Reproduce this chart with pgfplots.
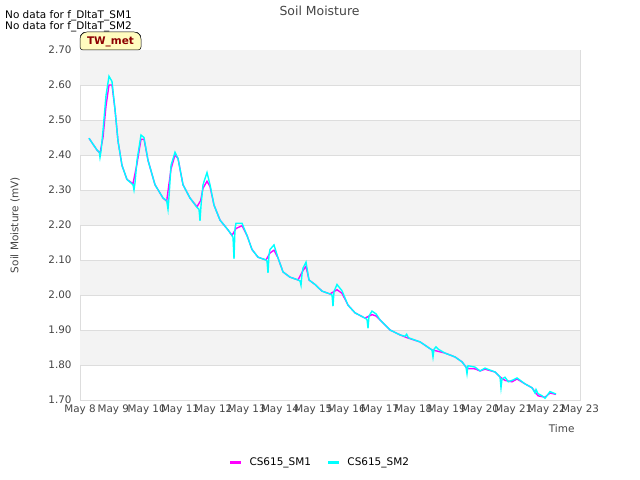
\documentclass[border=0pt]{standalone}
\usepackage{fontspec}
\setmainfont{DejaVu Sans}
\usepackage{pgfplots}
\pgfplotsset{compat=1.18}
\definecolor{sma}{HTML}{FF00FF}
\definecolor{smb}{HTML}{00FFFF}
\definecolor{band}{HTML}{F3F3F3}
\definecolor{gridc}{HTML}{DDDDDD}
\definecolor{txt}{HTML}{444444}
\begin{document}
\begin{tikzpicture}[x=1bp,y=1bp]
\useasboundingbox (0,0) rectangle (640,480);
\begin{axis}[
  at={(80bp,80bp)}, anchor=south west,
  scale only axis, width=500bp, height=350bp,
  xmin=0, xmax=15, ymin=1.70, ymax=2.70,
  xtick={0,...,15},
  xticklabels={May 8,May 9,May 10,May 11,May 12,May 13,May 14,May 15,May 16,May 17,May 18,May 19,May 20,May 21,May 22,May 23},
  ytick={1.70,1.80,...,2.71},
  yticklabel={\pgfmathprintnumber[fixed,fixed zerofill,precision=2]{\tick}},
  /pgf/number format/assume math mode=true,
  tick style={draw=none},
  ticklabel style={font=\fontsize{10.4}{12}\selectfont, text=txt},
  xticklabel style={yshift=-1bp},
  yticklabel style={xshift=-5bp},
  axis line style={draw=gridc},
  ylabel={Soil Moisture (mV)},
  ylabel style={font=\fontsize{10.5}{12}\selectfont, text=txt, at={(axis description cs:-0.13,0.5)}, anchor=center},
  xlabel={Time},
  xlabel style={font=\fontsize{10.5}{12}\selectfont, text=txt, at={(axis description cs:1,0)}, anchor=north east, yshift=-21bp, xshift=-2bp},
  title={Soil Moisture},
  title style={font=\fontsize{12.5}{14}\selectfont, text=txt, at={(axis description cs:0.479,1)}, yshift=33bp, anchor=center},
  legend style={at={(0.48,-0.153)}, anchor=north, draw=none, fill=none, legend columns=2, font=\fontsize{10.5}{12}\selectfont, /tikz/every odd column/.append style={column sep=5bp}, /tikz/every even column/.append style={column sep=14bp}},
  legend image code/.code={\draw[#1, line width=2.5pt] (0bp,0bp) -- (11bp,0bp);},
  clip=false,
]
\addlegendimage{sma}
\addlegendentry{CS615\_SM1}
\addlegendimage{smb}
\addlegendentry{CS615\_SM2}
% background bands
\fill[band] (axis cs:0,2.60) rectangle (axis cs:15,2.70);
\fill[band] (axis cs:0,2.40) rectangle (axis cs:15,2.50);
\fill[band] (axis cs:0,2.20) rectangle (axis cs:15,2.30);
\fill[band] (axis cs:0,2.00) rectangle (axis cs:15,2.10);
\fill[band] (axis cs:0,1.80) rectangle (axis cs:15,1.90);
\draw[gridc, line width=0.8pt] (axis cs:0,1.8) -- (axis cs:15,1.8);
\draw[gridc, line width=0.8pt] (axis cs:0,1.9) -- (axis cs:15,1.9);
\draw[gridc, line width=0.8pt] (axis cs:0,2.0) -- (axis cs:15,2.0);
\draw[gridc, line width=0.8pt] (axis cs:0,2.1) -- (axis cs:15,2.1);
\draw[gridc, line width=0.8pt] (axis cs:0,2.2) -- (axis cs:15,2.2);
\draw[gridc, line width=0.8pt] (axis cs:0,2.3) -- (axis cs:15,2.3);
\draw[gridc, line width=0.8pt] (axis cs:0,2.4) -- (axis cs:15,2.4);
\draw[gridc, line width=0.8pt] (axis cs:0,2.5) -- (axis cs:15,2.5);
\draw[gridc, line width=0.8pt] (axis cs:0,2.6) -- (axis cs:15,2.6);
\addplot[sma, line width=1.4pt, forget plot] coordinates {
(0.27,2.448) (0.51,2.414) (0.6,2.405) (0.69,2.45) (0.78,2.54) (0.87,2.600) (0.96,2.600) (1.05,2.53) (1.14,2.44) (1.26,2.37) (1.41,2.33) (1.59,2.318) (1.71,2.375) (1.83,2.445) (1.92,2.445) (2.04,2.385) (2.25,2.315) (2.49,2.277) (2.6,2.268) (2.73,2.36) (2.85,2.400) (2.94,2.39) (3.09,2.315) (3.3,2.277) (3.51,2.252) (3.62,2.27) (3.69,2.305) (3.81,2.325) (3.9,2.31) (4.02,2.257) (4.2,2.214) (4.44,2.186) (4.56,2.17) (4.68,2.19) (4.86,2.198) (5.01,2.17) (5.16,2.13) (5.34,2.108) (5.58,2.10) (5.7,2.12) (5.82,2.128) (5.94,2.106) (6.09,2.066) (6.3,2.051) (6.54,2.043) (6.69,2.07) (6.78,2.082) (6.87,2.043) (7.05,2.03) (7.26,2.011) (7.5,2.003) (7.71,2.015) (7.86,2.005) (8.04,1.971) (8.25,1.949) (8.55,1.934) (8.76,1.944) (8.88,1.940) (9.0,1.929) (9.3,1.90) (9.6,1.886) (9.81,1.878) (10.2,1.866) (10.56,1.843) (10.7,1.840) (10.95,1.834) (11.25,1.823) (11.46,1.809) (11.61,1.790) (11.85,1.789) (12.0,1.783) (12.15,1.788) (12.45,1.78) (12.6,1.766) (12.75,1.756) (12.96,1.752) (13.11,1.760) (13.35,1.746) (13.56,1.735) (13.74,1.712) (13.95,1.708) (14.1,1.72) (14.28,1.716)
};
\addplot[smb, line width=1.4pt, forget plot] coordinates {
(0.27,2.448) (0.51,2.414) (0.58,2.408) (0.6,2.393) (0.63,2.41) (0.69,2.47) (0.78,2.57) (0.87,2.625) (0.96,2.61) (1.05,2.53) (1.14,2.44) (1.26,2.37) (1.41,2.33) (1.59,2.315) (1.62,2.30) (1.65,2.32) (1.71,2.385) (1.83,2.457) (1.92,2.45) (2.04,2.385) (2.25,2.315) (2.49,2.277) (2.6,2.27) (2.64,2.245) (2.67,2.28) (2.73,2.37) (2.85,2.408) (2.94,2.39) (3.09,2.315) (3.3,2.277) (3.51,2.25) (3.57,2.245) (3.6,2.212) (3.63,2.255) (3.69,2.315) (3.81,2.35) (3.9,2.315) (4.02,2.257) (4.2,2.214) (4.44,2.186) (4.56,2.17) (4.59,2.165) (4.62,2.103) (4.65,2.19) (4.68,2.205) (4.86,2.205) (5.01,2.17) (5.16,2.13) (5.34,2.108) (5.58,2.10) (5.61,2.097) (5.64,2.063) (5.67,2.115) (5.7,2.13) (5.82,2.143) (5.94,2.106) (6.09,2.066) (6.3,2.051) (6.54,2.043) (6.6,2.040) (6.63,2.028) (6.66,2.060) (6.69,2.077) (6.78,2.094) (6.87,2.043) (7.05,2.03) (7.26,2.011) (7.5,2.003) (7.56,2.00) (7.59,1.968) (7.62,2.01) (7.71,2.03) (7.86,2.012) (8.04,1.971) (8.25,1.949) (8.55,1.934) (8.61,1.930) (8.64,1.905) (8.67,1.940) (8.76,1.954) (8.88,1.946) (9.0,1.929) (9.3,1.90) (9.6,1.886) (9.75,1.882) (9.8,1.888) (9.85,1.878) (10.2,1.866) (10.56,1.843) (10.59,1.823) (10.62,1.845) (10.68,1.852) (10.75,1.845) (10.95,1.834) (11.25,1.823) (11.46,1.809) (11.58,1.794) (11.61,1.775) (11.64,1.798) (11.85,1.794) (12.0,1.783) (12.15,1.791) (12.45,1.78) (12.6,1.766) (12.63,1.735) (12.66,1.76) (12.75,1.765) (12.85,1.752) (12.96,1.756) (13.11,1.763) (13.35,1.746) (13.56,1.735) (13.65,1.72) (13.68,1.730) (13.74,1.718) (13.86,1.712) (13.95,1.705) (14.1,1.724) (14.28,1.717)
};
\end{axis}
\node[anchor=north west, font=\fontsize{10.5}{10}\selectfont, inner sep=0pt, align=left] at (5,470) {No data for f\_DltaT\_SM1\\No data for f\_DltaT\_SM2};
\draw[fill=yellow!25!white, draw=black, line width=0.5pt, rounded corners=3bp] (80,430) -- (80,444) -- (84,448) -- (137,448) -- (141,444) -- (141,430) -- cycle;
\node[font=\bfseries\fontsize{10.5}{12}\selectfont, text=red!55!black] at (110.5,438) {TW\_met};
\end{tikzpicture}
\end{document}
